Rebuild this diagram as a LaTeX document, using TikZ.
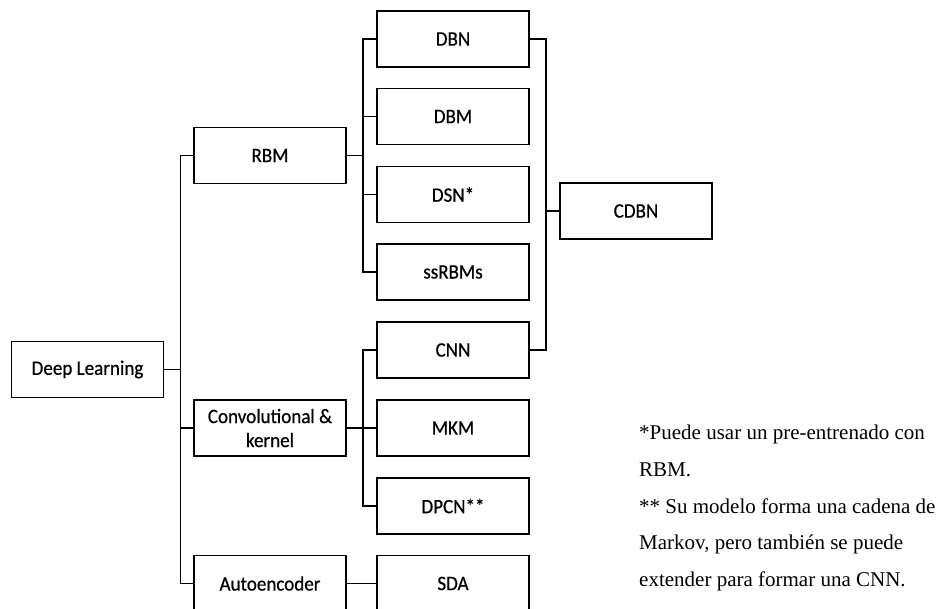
\documentclass[tikz,border=0pt]{standalone}
\usepackage{fontspec}
\setmainfont{Liberation Serif}
\newfontfamily\boxfont{Carlito}[FakeStretch=0.93,FakeBold=0.6]
\begin{document}
\begin{tikzpicture}[x=1pt,y=-1pt,
  box/.style={draw, line width=1.9pt, minimum width=152pt, minimum height=56pt,
    inner sep=0pt, align=center, font=\boxfont\fontsize{20.5}{24}\selectfont},
  link/.style={line width=1.7pt},
  note/.style={anchor=base west, inner sep=0pt, font=\fontsize{21}{25}\selectfont}]
\useasboundingbox (0,0) rectangle (942,608);
\clip (0,0) rectangle (942,608);
\fill[white] (0,0) rectangle (942,608);
% level 0
\node[box] (dl) at (87.5,369.5) {Deep Learning};
% level 1
\node[box] (rbm) at (270,155.5) {RBM};
\node[box] (conv) at (270,428) {Convolutional \&\\kernel};
\node[box] (auto) at (270,583.5) {Autoencoder};
% level 2
\node[box] (dbn) at (453,39) {DBN};
\node[box] (dbm) at (453,116.5) {DBM};
\node[box] (dsn) at (453,194.5) {DSN*};
\node[box] (ssrbm) at (453,272) {ssRBMs};
\node[box] (cnn) at (453,350) {CNN};
\node[box] (mkm) at (453,428) {MKM};
\node[box] (dpcn) at (453,506) {DPCN**};
\node[box] (sda) at (453,583.5) {SDA};
% level 3
\node[box] (cdbn) at (636,211) {CDBN};
% connectors
\foreach \c in {rbm,conv,auto} \draw[link] (dl.east) -- ++(16,0) |- (\c.west);
\foreach \c in {dbn,dbm,dsn,ssrbm} \draw[link] (rbm.east) -- ++(16,0) |- (\c.west);
\foreach \c in {cnn,mkm,dpcn} \draw[link] (conv.east) -- ++(16,0) |- (\c.west);
\draw[link] (auto.east) -- (sda.west);
\foreach \c in {dbn,cnn} \draw[link] (\c.east) -- ++(16,0) |- (cdbn.west);
% notes
\node[note] (n1) at (639,439) {*Puede usar un pre-entrenado con};
\node[note] (n2) at (639,476) {RBM.};
\node[note] (n3) at (639,513) {** Su modelo forma una cadena de};
\node[note] (n4) at (639,549) {Markov, pero también se puede};
\node[note] (n5) at (639,586) {extender para formar una CNN.};
\end{tikzpicture}
\end{document}
